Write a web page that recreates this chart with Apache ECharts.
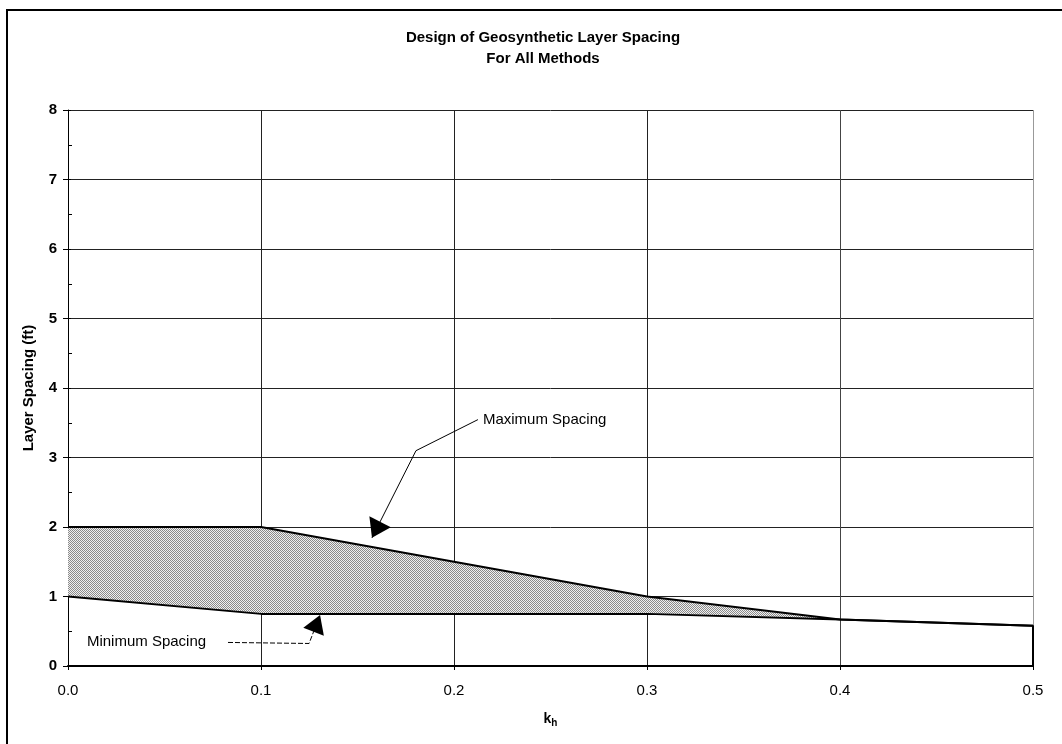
<!DOCTYPE html>
<html><head><meta charset="utf-8">
<script src="https://cdn.jsdelivr.net/npm/echarts@6/dist/echarts.min.js"></script>
<style>html,body{margin:0;padding:0;background:#fff}#c{width:1062px;height:744px}</style>
</head><body><div id="c"></div>
<script>
// ---- data ----
const kh = [0.0, 0.1, 0.3, 0.4, 0.5];
const maxSpacing = [2.0, 2.0, 1.0, 0.67, 0.58];
const minSpacing = [1.0, 0.75, 0.75, 0.67, 0.58];
const xTickLabels = ['0.0', '0.1', '0.2', '0.3', '0.4', '0.5'];
const yTickLabels = ['0', '1', '2', '3', '4', '5', '6', '7', '8'];
const titleLines = ['Design of Geosynthetic Layer Spacing', 'For All Methods'];
const maxNoteText = 'Maximum Spacing';
const maxNoteAt = [0.215, 3.545];
const maxLeader = [[0.2124, 3.545], [0.1803, 3.098], [0.1575, 1.844]];
const minNoteText = 'Minimum Spacing';
const minNoteAt = [0.0098, 0.35];
const minLeader = [[0.0829, 0.339], [0.1249, 0.324], [0.1306, 0.735]];

const FONT = '"Liberation Sans", Arial, sans-serif';

// dotted fill pattern
const pc = document.createElement('canvas'); pc.width = 2; pc.height = 2;
const pg = pc.getContext('2d');
pg.fillStyle = '#f0f0f0'; pg.fillRect(0, 0, 2, 2);
pg.fillStyle = '#8a8a8a'; pg.fillRect(0, 0, 1, 1); pg.fillRect(1, 1, 1, 1);

const maxData = kh.map((x, i) => [x, maxSpacing[i]]);
const minData = kh.map((x, i) => [x, minSpacing[i]]);
const minLine = minData.concat([[kh[kh.length - 1], 0]]);

const chart = echarts.init(document.getElementById('c'), null, {renderer: 'canvas'});
chart.setOption({
  animation: false,
  backgroundColor: '#fff',
  title: {
    text: titleLines.join('\n'), left: 543, top: 27, textAlign: 'center', padding: 0,
    textStyle: {fontFamily: FONT, fontSize: 15, fontWeight: 'bold', color: '#000', lineHeight: 21}
  },
  grid: {left: 68, right: 29, top: 110, bottom: 78, containLabel: false},
  xAxis: {
    type: 'value', min: 0, max: 0.5, interval: 0.1,
    name: '{k|k}{h|h}', nameLocation: 'middle', nameGap: 44,
    nameTextStyle: {rich: {
      k: {fontFamily: FONT, fontSize: 14, fontWeight: 'bold', color: '#000', verticalAlign: 'bottom', lineHeight: 16},
      h: {fontFamily: FONT, fontSize: 10, fontWeight: 'bold', color: '#000', verticalAlign: 'bottom', lineHeight: 12, padding: [0, 0, -2, 0]}
    }},
    axisLine: {show: true, onZero: false, lineStyle: {color: '#000', width: 2}},
    axisTick: {show: true, length: 4, lineStyle: {color: '#000'}},
    axisLabel: {fontFamily: FONT, fontSize: 15, color: '#000', margin: 17,
      formatter: (v) => xTickLabels[Math.round(v * 10)] ?? ''},
    splitLine: {show: true, lineStyle: {color: ['#222', '#222', '#222', '#222', '#444', '#999'], width: 1}}
  },
  yAxis: [{
    type: 'value', min: 0, max: 8, interval: 1,
    name: 'Layer Spacing (ft)', nameLocation: 'middle', nameGap: 32,
    nameTextStyle: {fontFamily: FONT, fontSize: 15, fontWeight: 'bold', color: '#000'},
    axisLine: {show: true, onZero: false, lineStyle: {color: '#000', width: 1}},
    axisTick: {show: true, length: 5, lineStyle: {color: '#000'}},
    axisLabel: {fontFamily: FONT, fontSize: 15, fontWeight: 'bold', color: '#000', margin: 11,
      formatter: (v) => yTickLabels[Math.round(v)] ?? ''},
    splitLine: {show: true, lineStyle: {color: '#222', width: 1}}
  }, {
    type: 'value', min: 0, max: 8, interval: 1, position: 'left',
    axisLine: {show: false}, axisLabel: {show: false}, splitLine: {show: false},
    axisTick: {show: true, inside: true, length: 3, lineStyle: {color: '#000'}},
    minorTick: {show: true, splitNumber: 2, length: 4, lineStyle: {color: '#000'}}
  }],
  series: [{
    name: 'band', type: 'custom', data: [0], z: 2, silent: true,
    renderItem: function (params, api) {
      const top = kh.map((x, i) => api.coord([x, maxSpacing[i]]));
      const bot = kh.map((x, i) => api.coord([x, minSpacing[i]])).reverse();
      return {type: 'polygon', shape: {points: top.concat(bot)},
        style: {fill: {image: pc, repeat: 'repeat'}, stroke: 'none'}};
    }
  }, {
    name: 'Maximum Spacing', type: 'line', data: maxData,
    symbol: 'none', lineStyle: {color: '#000', width: 2}, z: 4
  }, {
    name: 'Minimum Spacing', type: 'line', data: minLine,
    symbol: 'none', lineStyle: {color: '#000', width: 2}, z: 4
  }]
});

// ---- annotations ----
function px(p) { return chart.convertToPixel({gridIndex: 0}, p); }
function arrowHead(prev, tip, L, W) {
  const a = px(prev), t = px(tip);
  const dx = t[0] - a[0], dy = t[1] - a[1], len = Math.hypot(dx, dy);
  const ux = dx / len, uy = dy / len, nx = -uy, ny = ux;
  const bx = t[0] - ux * L, by = t[1] - uy * L;
  return [[t[0], t[1]], [bx + nx * W / 2, by + ny * W / 2], [bx - nx * W / 2, by - ny * W / 2]];
}
const g = [];
g.push({type: 'rect', z: 100, shape: {x: 7, y: 10, width: 1100, height: 800},
  style: {fill: 'none', stroke: '#000', lineWidth: 2}, silent: true});
const mT = px(maxNoteAt);
g.push({type: 'text', z: 100, x: mT[0], y: mT[1], style: {text: maxNoteText, font: '15px ' + FONT, fill: '#000', align: 'left', verticalAlign: 'middle'}});
g.push({type: 'polyline', z: 100, shape: {points: maxLeader.map(px)}, style: {stroke: '#000', lineWidth: 1, fill: 'none'}});
g.push({type: 'polygon', z: 100, shape: {points: arrowHead(maxLeader[1], maxLeader[2], 18, 24)}, style: {fill: '#000'}});
const nT = px(minNoteAt);
g.push({type: 'text', z: 100, x: nT[0], y: nT[1], style: {text: minNoteText, font: '15px ' + FONT, fill: '#000', align: 'left', verticalAlign: 'middle'}});
g.push({type: 'polyline', z: 100, shape: {points: minLeader.map(px)}, style: {stroke: '#000', lineWidth: 1, fill: 'none', lineDash: [5, 2]}});
g.push({type: 'polygon', z: 100, shape: {points: arrowHead(minLeader[1], minLeader[2], 18, 22)}, style: {fill: '#000'}});
chart.setOption({graphic: g});
</script></body></html>
